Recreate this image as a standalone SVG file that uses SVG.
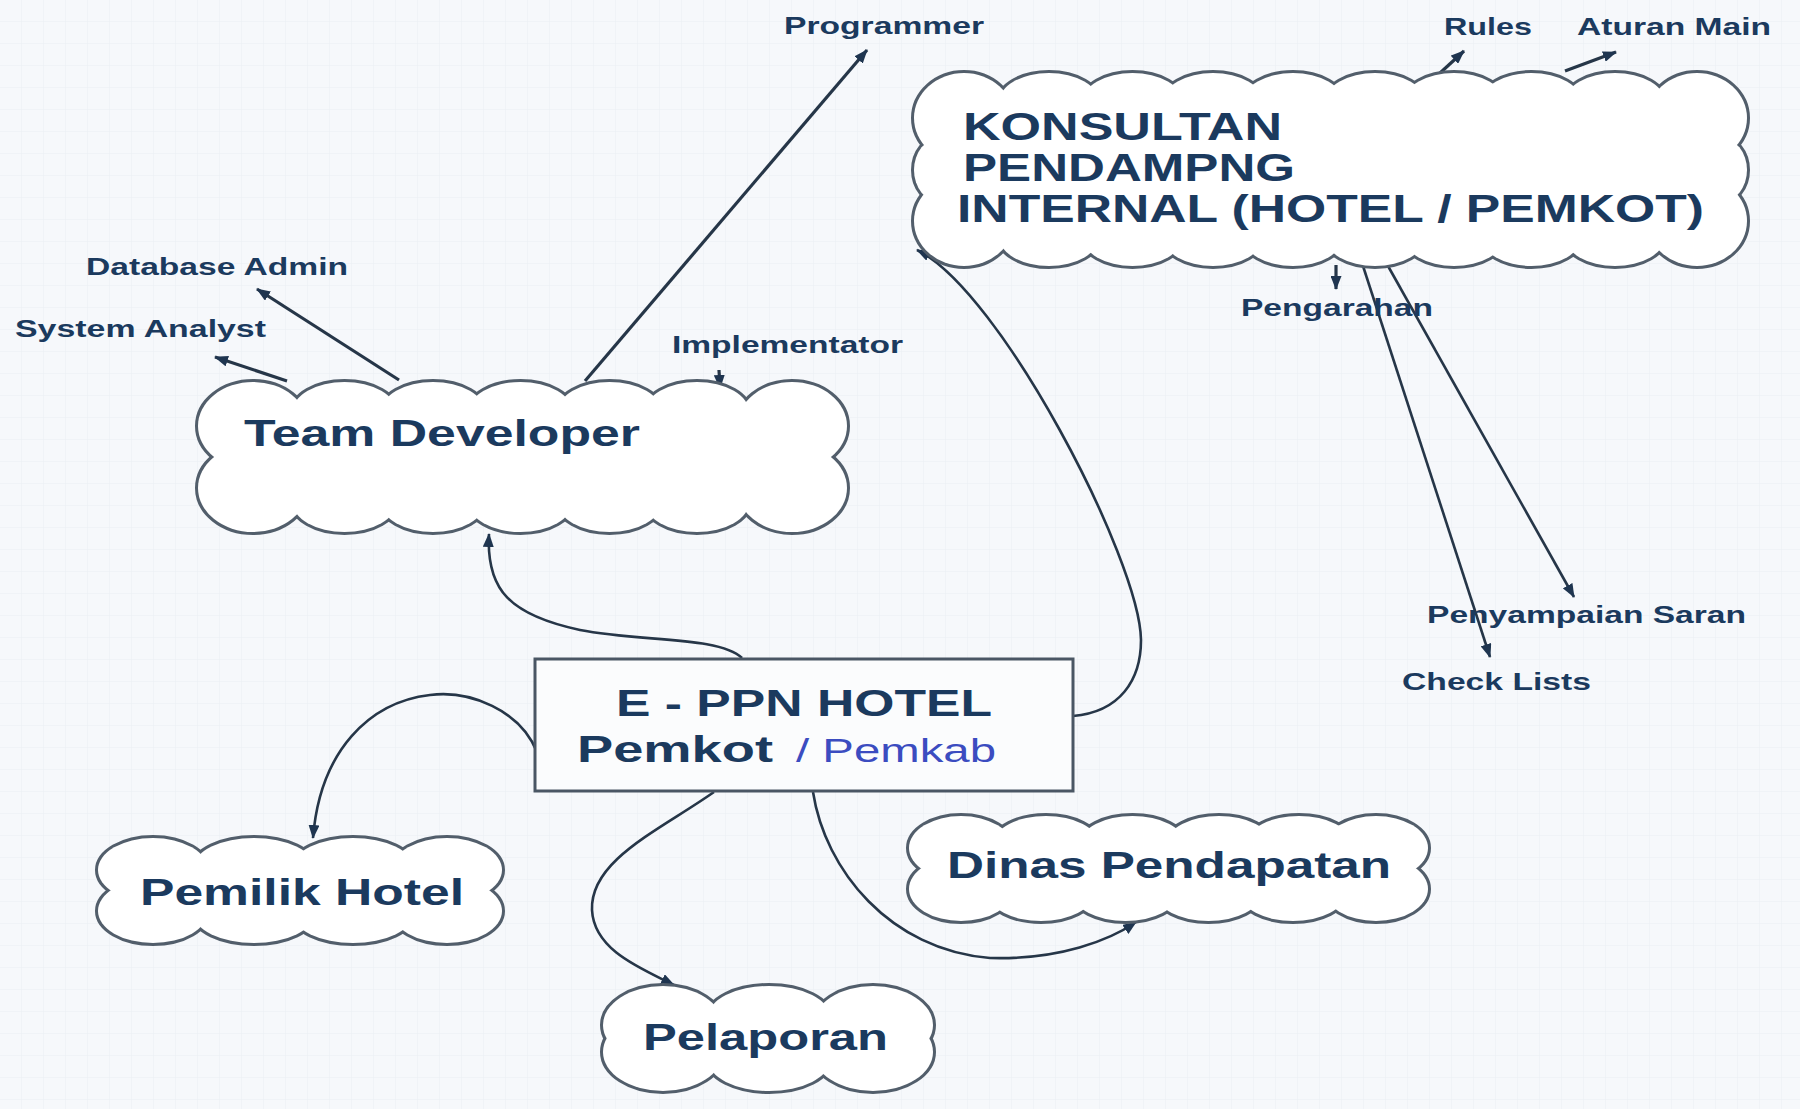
<svg xmlns="http://www.w3.org/2000/svg" xmlns:xlink="http://www.w3.org/1999/xlink" width="1800" height="1109" viewBox="0 0 1800 1109">
<style>
.t{font-family:"Liberation Sans",Arial,sans-serif;font-weight:bold;fill:#1b3a5e}
.s{font-size:23px}
.b{font-size:36px}
.cs{fill:none;stroke:#525e6b;stroke-width:6}
.cf{fill:#fff;stroke:none}
.ln{fill:none;stroke:#263648;stroke-width:2.6}
.lb{fill:none;stroke:#263648;stroke-width:3.2}
</style>
<defs>
<pattern id="grid" width="22" height="22" patternUnits="userSpaceOnUse">
<rect width="22" height="22" fill="#f6f8fb"/>
<path d="M22,0 V22 M0,22 H22" stroke="#ebeff4" stroke-width="1" fill="none"/>
</pattern>
<marker id="ah" viewBox="0 0 14 11" refX="13" refY="5.5" markerWidth="14" markerHeight="11" markerUnits="userSpaceOnUse" orient="auto">
<path d="M0,0 L14,5.5 L0,11 z" fill="#1f3550"/>
</marker>
<g id="cTD">
<ellipse cx="253" cy="426" rx="55" ry="44"/><ellipse cx="253" cy="488" rx="55" ry="44"/>
<ellipse cx="792" cy="426" rx="55" ry="44"/><ellipse cx="792" cy="488" rx="55" ry="44"/>
<ellipse cx="344.5" cy="412" rx="52" ry="30"/><ellipse cx="433" cy="412" rx="52" ry="30"/><ellipse cx="520.5" cy="412" rx="52" ry="30"/><ellipse cx="609.5" cy="412" rx="52" ry="30"/><ellipse cx="697" cy="412" rx="52" ry="30"/>
<ellipse cx="344.5" cy="502" rx="52" ry="30"/><ellipse cx="433" cy="502" rx="52" ry="30"/><ellipse cx="520.5" cy="502" rx="52" ry="30"/><ellipse cx="609.5" cy="502" rx="52" ry="30"/><ellipse cx="697" cy="502" rx="52" ry="30"/>
</g>
<g id="cK">
<ellipse cx="964" cy="118" rx="50" ry="45"/><ellipse cx="964" cy="221" rx="50" ry="45"/>
<ellipse cx="1697" cy="118" rx="50" ry="45"/><ellipse cx="1697" cy="221" rx="50" ry="45"/>
<ellipse cx="940" cy="170" rx="26" ry="32"/><ellipse cx="1721" cy="170" rx="26" ry="32"/>
<ellipse cx="1049" cy="102" rx="50" ry="29"/><ellipse cx="1132.5" cy="102" rx="50" ry="29"/><ellipse cx="1213" cy="102" rx="50" ry="29"/><ellipse cx="1293" cy="102" rx="50" ry="29"/><ellipse cx="1375" cy="102" rx="50" ry="29"/><ellipse cx="1454" cy="102" rx="50" ry="29"/><ellipse cx="1531.5" cy="102" rx="50" ry="29"/><ellipse cx="1615" cy="102" rx="50" ry="29"/>
<ellipse cx="1049" cy="237" rx="50" ry="29"/><ellipse cx="1132.5" cy="237" rx="50" ry="29"/><ellipse cx="1213" cy="237" rx="50" ry="29"/><ellipse cx="1293" cy="237" rx="50" ry="29"/><ellipse cx="1375" cy="237" rx="50" ry="29"/><ellipse cx="1454" cy="237" rx="50" ry="29"/><ellipse cx="1531.5" cy="237" rx="50" ry="29"/><ellipse cx="1615" cy="237" rx="50" ry="29"/>
</g>
<g id="cPH">
<ellipse cx="153" cy="870" rx="55" ry="32"/><ellipse cx="153" cy="911" rx="55" ry="32"/>
<ellipse cx="447" cy="870" rx="55" ry="32"/><ellipse cx="447" cy="911" rx="55" ry="32"/>
<ellipse cx="254" cy="867" rx="60" ry="29"/><ellipse cx="353" cy="867" rx="60" ry="29"/>
<ellipse cx="254" cy="914" rx="60" ry="29"/><ellipse cx="353" cy="914" rx="60" ry="29"/>
</g>
<g id="cPL">
<ellipse cx="663" cy="1025" rx="60" ry="39"/><ellipse cx="663" cy="1052" rx="60" ry="39"/>
<ellipse cx="873" cy="1025" rx="60" ry="39"/><ellipse cx="873" cy="1052" rx="60" ry="39"/>
<ellipse cx="769" cy="1017" rx="61" ry="31"/><ellipse cx="769" cy="1060" rx="61" ry="31"/>
</g>
<g id="cDP">
<ellipse cx="961" cy="848" rx="52" ry="32"/><ellipse cx="961" cy="889" rx="52" ry="32"/>
<ellipse cx="1376" cy="848" rx="52" ry="32"/><ellipse cx="1376" cy="889" rx="52" ry="32"/>
<ellipse cx="1046" cy="843" rx="52" ry="27"/><ellipse cx="1132.5" cy="843" rx="52" ry="27"/><ellipse cx="1219" cy="843" rx="52" ry="27"/><ellipse cx="1299" cy="843" rx="52" ry="27"/>
<ellipse cx="1041" cy="894" rx="52" ry="27"/><ellipse cx="1125.5" cy="894" rx="52" ry="27"/><ellipse cx="1208.5" cy="894" rx="52" ry="27"/><ellipse cx="1293" cy="894" rx="52" ry="27"/>
</g>
</defs>
<rect width="1800" height="1109" fill="url(#grid)"/>

<g id="connectors">
<line class="lb" x1="585" y1="381" x2="867" y2="50" marker-end="url(#ah)"/>
<line class="lb" x1="399" y1="380" x2="257" y2="289" marker-end="url(#ah)"/>
<line class="lb" x1="287" y1="381" x2="215" y2="357" marker-end="url(#ah)"/>
<line class="lb" x1="719" y1="370" x2="720" y2="388" marker-end="url(#ah)"/>
<line class="lb" x1="1440" y1="73" x2="1464" y2="51" marker-end="url(#ah)"/>
<line class="lb" x1="1565" y1="71" x2="1616" y2="52" marker-end="url(#ah)"/>
<line class="lb" x1="1336" y1="265" x2="1336" y2="289" marker-end="url(#ah)"/>
<line class="ln" x1="1363" y1="266" x2="1490" y2="657" marker-end="url(#ah)"/>
<line class="ln" x1="1388" y1="266" x2="1574" y2="597" marker-end="url(#ah)"/>
<path class="ln" d="M1073,716 C1120,712 1141,680 1141,640 C1140,560 1000,290 917,250" marker-end="url(#ah)"/>
<path class="ln" d="M742,658 C720,636 640,642 580,630 C510,615 486,590 489,534" marker-end="url(#ah)"/>
<path class="ln" d="M537,752 C520,710 470,690 430,695 C370,702 320,750 313,838" marker-end="url(#ah)"/>
<path class="ln" d="M535,741 Q546,751 535,762"/>
<path class="ln" d="M714,792 C660,830 590,860 592,910 C594,950 640,968 674,985" marker-end="url(#ah)"/>
<path class="ln" d="M813,792 C825,870 890,950 990,958 C1060,960 1110,940 1136,922" marker-end="url(#ah)"/>
</g>

<g id="label-programmer"><text class="t s" x="784" y="34" textLength="200" lengthAdjust="spacingAndGlyphs">Programmer</text></g>
<g id="label-rules"><text class="t s" x="1444" y="35" textLength="88" lengthAdjust="spacingAndGlyphs">Rules</text></g>
<g id="label-aturan"><text class="t s" x="1577" y="35" textLength="194" lengthAdjust="spacingAndGlyphs">Aturan Main</text></g>
<g id="label-dbadmin"><text class="t s" x="86" y="275" textLength="262" lengthAdjust="spacingAndGlyphs">Database Admin</text></g>
<g id="label-sysanalyst"><text class="t s" x="15" y="337" textLength="251" lengthAdjust="spacingAndGlyphs">System Analyst</text></g>
<g id="label-implementator"><text class="t s" x="672" y="353" textLength="231" lengthAdjust="spacingAndGlyphs">Implementator</text></g>
<g id="label-pengarahan"><text class="t s" x="1241" y="316" textLength="192" lengthAdjust="spacingAndGlyphs">Pengarahan</text></g>
<g id="label-saran"><text class="t s" x="1427" y="623" textLength="319" lengthAdjust="spacingAndGlyphs">Penyampaian Saran</text></g>
<g id="label-checklists"><text class="t s" x="1402" y="690" textLength="189" lengthAdjust="spacingAndGlyphs">Check Lists</text></g>

<g id="team-developer">
<use href="#cTD" class="cs"/><use href="#cTD" class="cf"/>
<rect x="230" y="405" width="585" height="105" fill="#fff"/>
<text class="t b" x="244" y="446" textLength="396" lengthAdjust="spacingAndGlyphs">Team Developer</text>
</g>

<g id="konsultan">
<use href="#cK" class="cs"/><use href="#cK" class="cf"/>
<rect x="940" y="100" width="780" height="140" fill="#fff"/>
<text class="t" font-size="38" x="963" y="140" textLength="319" lengthAdjust="spacingAndGlyphs">KONSULTAN</text>
<text class="t" font-size="38" x="963" y="181" textLength="332" lengthAdjust="spacingAndGlyphs">PENDAMPNG</text>
<text class="t" font-size="38" x="957" y="222" textLength="747" lengthAdjust="spacingAndGlyphs">INTERNAL (HOTEL / PEMKOT)</text>
</g>

<g id="e-ppn-hotel">
<rect x="535" y="659" width="538" height="132" fill="#fbfcfd" stroke="#4a5664" stroke-width="3"/>
<text class="t b" x="616" y="716" textLength="376" lengthAdjust="spacingAndGlyphs">E - PPN HOTEL</text>
<text class="t b" x="577" y="762" textLength="196" lengthAdjust="spacingAndGlyphs">Pemkot</text>
<text x="796" y="762" font-family="Liberation Sans, Arial, sans-serif" font-size="34" fill="#3b4cc0" textLength="200" lengthAdjust="spacingAndGlyphs">/ Pemkab</text>
</g>

<g id="pemilik-hotel">
<use href="#cPH" class="cs"/><use href="#cPH" class="cf"/>
<rect x="120" y="860" width="360" height="65" fill="#fff"/>
<text class="t b" x="140" y="905" textLength="324" lengthAdjust="spacingAndGlyphs">Pemilik Hotel</text>
</g>

<g id="pelaporan">
<use href="#cPL" class="cs"/><use href="#cPL" class="cf"/>
<rect x="630" y="1010" width="275" height="58" fill="#fff"/>
<text class="t b" x="643" y="1050" textLength="245" lengthAdjust="spacingAndGlyphs">Pelaporan</text>
</g>

<g id="dinas-pendapatan">
<use href="#cDP" class="cs"/><use href="#cDP" class="cf"/>
<rect x="935" y="840" width="465" height="60" fill="#fff"/>
<text class="t b" x="947" y="878" textLength="444" lengthAdjust="spacingAndGlyphs">Dinas Pendapatan</text>
</g>
</svg>
